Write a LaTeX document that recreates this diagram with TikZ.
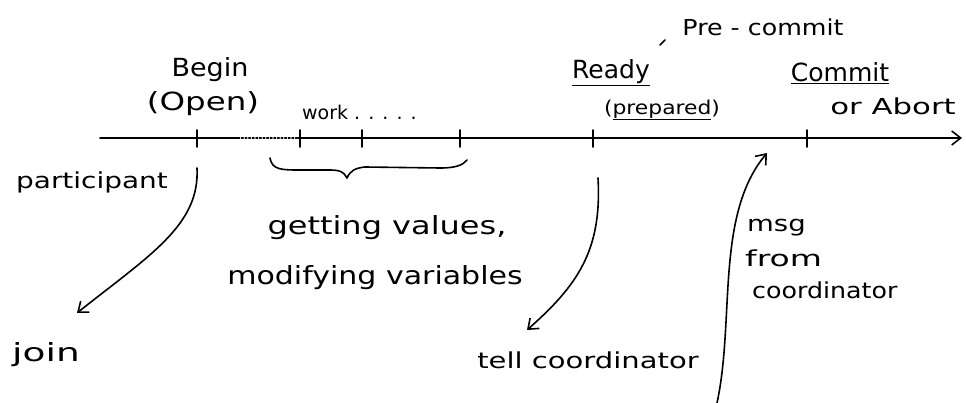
\documentclass[tikz,border=0pt]{standalone}
\usepackage{fontspec}
\usepackage{graphicx}
\setmainfont{DejaVu Sans}
\usetikzlibrary{arrows.meta}
% horizontally stretched text, for the wide hand lettering
\newcommand\hs[2]{\scalebox{#1}[1]{#2}}
\tikzset{
  pen/.style={line width=1.6pt, line cap=round, line join=round},
  lbl/.style={inner sep=0pt, font=\fontsize{22}{26}\selectfont},
  big/.style={inner sep=0pt, font=\fontsize{25}{30}\selectfont},
  small/.style={inner sep=0pt, font=\fontsize{19}{23}\selectfont},
  tick/.style={pen},
  head/.style={-{Straight Barb[length=9pt, width=14pt, line width=1.6pt]}}
}
\begin{document}
\begin{tikzpicture}[x=1pt, y=-1pt]
  \useasboundingbox (0,0) rectangle (966,403);

  % time line
  \coordinate (t0) at (100,138);
  \coordinate (tB) at (197,138);
  \coordinate (w1) at (300,138);
  \coordinate (w2) at (362,138);
  \coordinate (w3) at (460,138);
  \coordinate (tR) at (593,138);
  \coordinate (tC) at (807,138);
  \coordinate (tE) at (962,138);
  \coordinate (d0) at (238,138);
  \coordinate (d1) at (298,138);

  \draw[pen] (t0) -- (d0);
  \draw[pen, dotted] (d0) -- (d1);
  \draw[pen, head] (d1) -- (tE);
  \foreach \t in {tB,w1,w2,w3,tR,tC}
    \draw[tick] ([yshift=8pt]\t) -- ([yshift=-9pt]\t);

  % labels above the line
  \node[big] (begin) at (210,70) {\hs{1.08}{Begin}};
  \node[big] (open) at (203,104) {\hs{1.3}{(Open)}};
  \node[small, anchor=west] (work) at (302,112) {work . . . . .};
  \node[big] (ready) at (611,73) {\underline{Ready}};
  \node[small] (prep) at (662,110) {\hs{1.15}{(\underline{prepared})}};
  \node[lbl] (pre) at (763,27) {\hs{1.15}{Pre - commit}};
  \coordinate (preA) at (660,45);
  \coordinate (preB) at (665,40);
  \draw[pen] (preA) -- (preB);
  \node[big] (commit) at (840,73) {\underline{Commit}};
  \node[lbl] (abort) at (893,106) {\hs{1.4}{or Abort}};

  % labels below the line
  \node[lbl] (part) at (92,182) {\hs{1.27}{participant}};
  \node[big] (get) at (387,228) {\hs{1.28}{getting values,}};
  \node[big] (mod) at (375,278) {\hs{1.2}{modifying variables}};
  \node[big] (join) at (46,355) {\hs{1.5}{join}};
  \node[lbl] (tell) at (588,360) {\hs{1.32}{tell coordinator}};
  \node[lbl, anchor=west] (msg) at (747,228) {\hs{1.25}{msg}};
  \node[lbl, anchor=west] (from) at (745,258) {\hs{1.5}{from}};
  \node[lbl, anchor=west] (coord) at (752,290) {\hs{1.15}{coordinator}};

  % brace under the work steps
  \draw[pen] (270,158) .. controls (272,170) and (282,170) .. (300,170)
    -- (330,170) .. controls (340,170) and (344,172) .. (347,178)
    .. controls (350,171) and (355,168) .. (365,167)
    -- (440,168) .. controls (456,168) and (463,165) .. (467,160);

  % arrows
  \coordinate (jS) at (197,168);
  \coordinate (jE) at (77,313);
  \draw[pen, head] (jS) .. controls (200,225) and (150,255) .. (jE);

  \coordinate (rS) at (598,178);
  \coordinate (rE) at (527,330);
  \draw[pen, head] (rS) .. controls (602,250) and (578,285) .. (rE);

  \coordinate (mS) at (717,403);
  \coordinate (mE) at (767,153);
  \draw[pen, head] (mS) .. controls (735,320) and (715,215) .. (mE);
\end{tikzpicture}
\end{document}
